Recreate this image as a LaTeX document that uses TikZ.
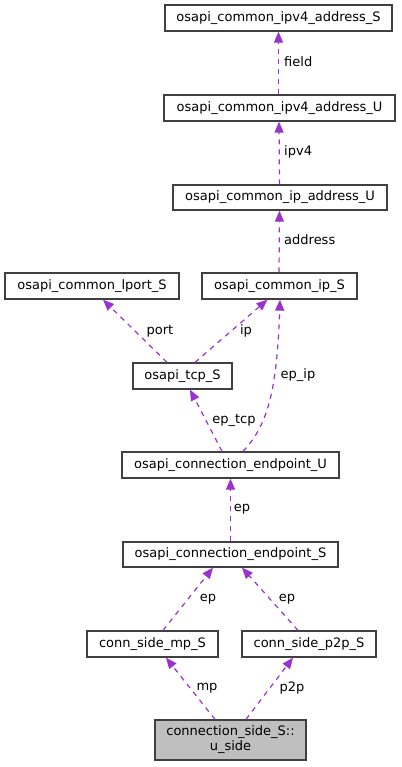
\documentclass[tikz,border=0pt]{standalone}
\usepackage{fontspec}
\setmainfont{DejaVu Sans}
\usetikzlibrary{arrows.meta}
\definecolor{edgec}{HTML}{9A32CD}
\definecolor{boxc}{HTML}{404040}
\definecolor{fillc}{HTML}{BFBFBF}
\tikzset{
  cls/.style={draw=boxc, line width=1.3pt, fill=white, inner sep=0pt, font=\fontsize{13}{15}\selectfont},
  rel/.style={draw=edgec, line width=1.2pt, dash pattern=on 5pt off 5pt, -{Triangle[length=11pt,width=9pt,fill=edgec]}},
  lbl/.style={inner sep=0pt, font=\fontsize{13}{15}\selectfont}
}
\begin{document}
\begin{tikzpicture}[x=1pt,y=-1pt]
\useasboundingbox (0,0) rectangle (401,767);
\node[cls, minimum width=227pt, minimum height=26pt] (v4S) at (278.5,18) {osapi\_common\_ipv4\_address\_S};
\node[cls, minimum width=231pt, minimum height=26pt] (v4U) at (279.5,108) {osapi\_common\_ipv4\_address\_U};
\node[cls, minimum width=214pt, minimum height=25pt] (ipaU) at (280,197.5) {osapi\_common\_ip\_address\_U};
\node[cls, minimum width=174pt, minimum height=26pt] (lport) at (92,286) {osapi\_common\_lport\_S};
\node[cls, minimum width=155pt, minimum height=26pt] (ipS) at (279.5,286) {osapi\_common\_ip\_S};
\node[cls, minimum width=99pt, minimum height=26pt] (tcp) at (182.5,376) {osapi\_tcp\_S};
\node[cls, minimum width=217pt, minimum height=26pt] (epU) at (230.5,465) {osapi\_connection\_endpoint\_U};
\node[cls, minimum width=215pt, minimum height=25pt] (epS) at (230.5,554.5) {osapi\_connection\_endpoint\_S};
\node[cls, minimum width=131pt, minimum height=26pt] (mp) at (152.5,644) {conn\_side\_mp\_S};
\node[cls, minimum width=134pt, minimum height=26pt] (p2p) at (309,644) {conn\_side\_p2p\_S};
\node[cls, fill=fillc, minimum width=151pt, minimum height=40pt, align=center] (us) at (230.5,740) {connection\_side\_S::\\u\_side};

\draw[rel] (v4U.north -| v4S.south) -- (v4S.south);
\draw[rel] ([xshift=-0.5pt]ipaU.north) -- ([xshift=-0.5pt]v4U.south);
\draw[rel] ([xshift=-0.5pt]ipS.north) -- ([xshift=-0.5pt]ipaU.south);
\draw[rel] ([xshift=-15.5pt]tcp.north) -- ([xshift=11pt]lport.south);
\draw[rel] ([xshift=12.5pt]tcp.north) -- ([xshift=-12pt]ipS.south);
\draw[rel] ([xshift=-8.5pt]epU.north) -- ([xshift=7.5pt]tcp.south);
\draw[rel] ([xshift=12.5pt]epU.north) .. controls (268,425) and (277,390) .. ([xshift=0.5pt]ipS.south);
\draw[rel] (epS.north) -- (epU.south);
\draw[rel] ([xshift=10.5pt]mp.north) -- ([xshift=-17.5pt]epS.south);
\draw[rel] ([xshift=-11pt]p2p.north) -- ([xshift=11.5pt]epS.south);
\draw[rel] ([xshift=-15.5pt]us.north) -- ([xshift=13.5pt]mp.south);
\draw[rel] ([xshift=15.5pt]us.north) -- ([xshift=-16pt]p2p.south);

\node[lbl, anchor=west] (lf) at (284,62) {field};
\node[lbl, anchor=west] (lv4) at (284,152) {ipv4};
\node[lbl, anchor=west] (lad) at (284,240) {address};
\node[lbl] (lpo) at (160,331) {port};
\node[lbl] (lip) at (246,331) {ip};
\node[lbl] (let) at (234,420) {ep\_tcp};
\node[lbl] (lei) at (298,375) {ep\_ip};
\node[lbl] (lep1) at (242,509) {ep};
\node[lbl] (lep2) at (208,599) {ep};
\node[lbl] (lep3) at (287,599) {ep};
\node[lbl] (lmp) at (207,688) {mp};
\node[lbl] (lpp) at (292,688) {p2p};
\end{tikzpicture}
\end{document}
